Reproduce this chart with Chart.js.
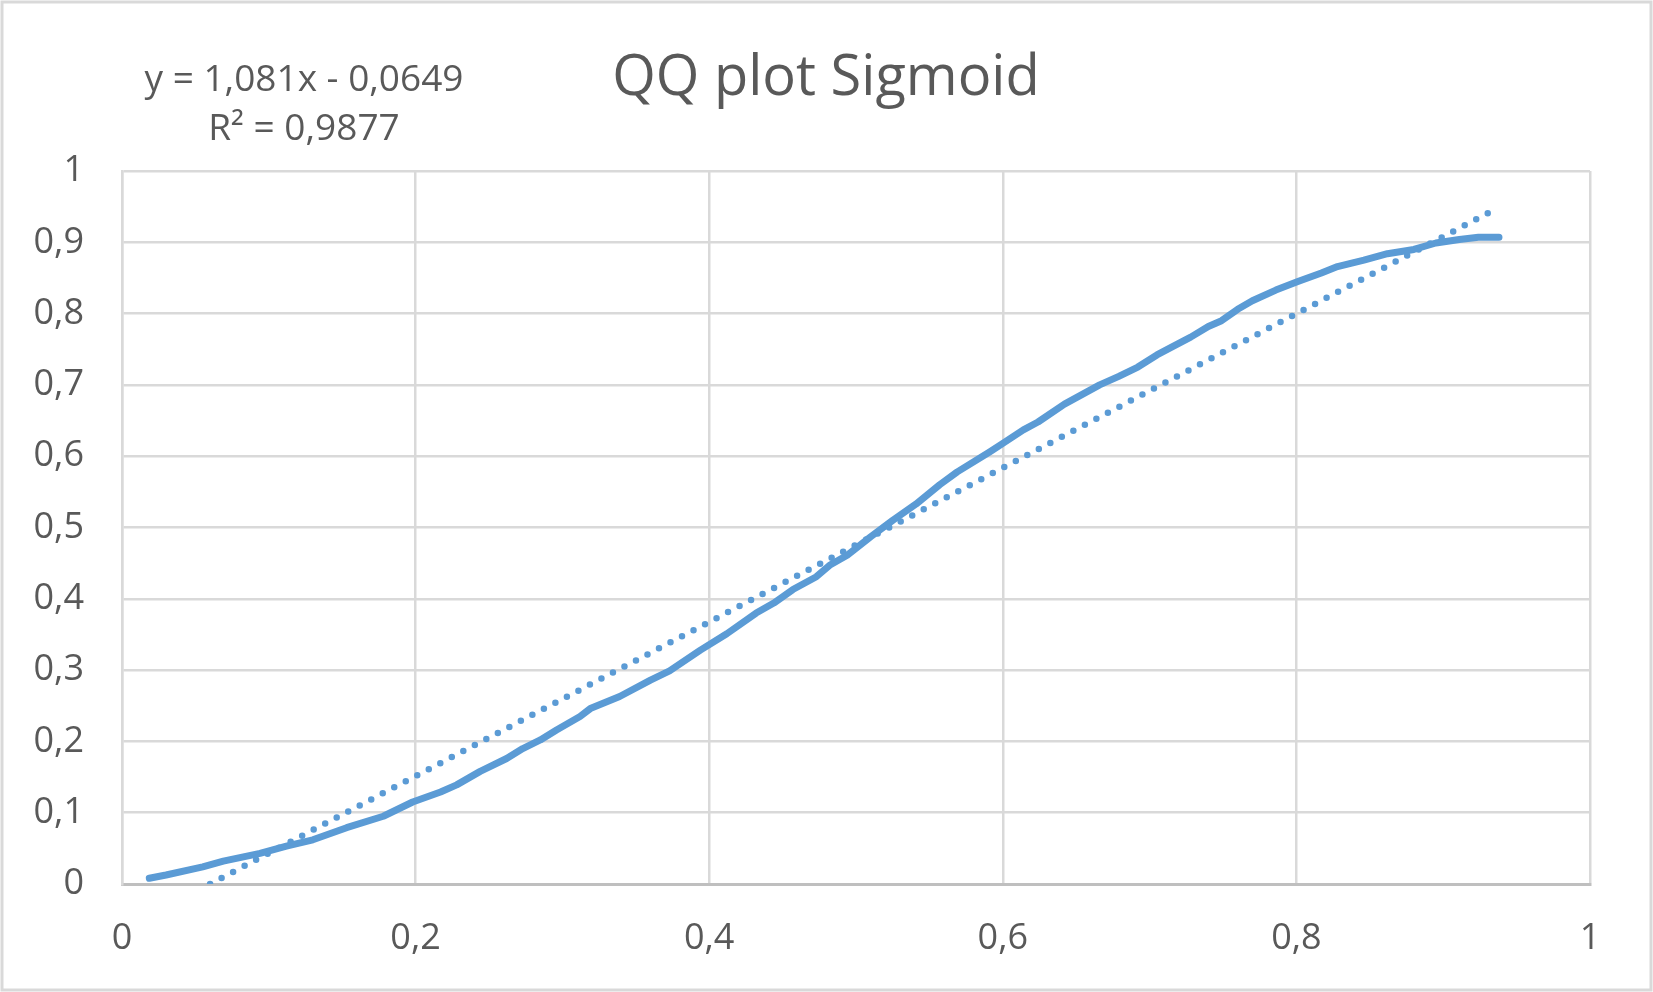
<!DOCTYPE html>
<html>
<head>
<meta charset="utf-8">
<script src="https://cdn.jsdelivr.net/npm/chart.js@4/dist/chart.umd.min.js"></script>
<style>
  body{margin:0;background:#fff;}
  canvas{display:block;}
</style>
</head>
<body>
<canvas id="qq" width="1653" height="992"></canvas>
<script>
// QQ plot Sigmoid
const titleText = 'QQ plot Sigmoid';
const eqLines = ['y = 1,081x - 0,0649', 'R\u00B2 = 0,9877'];

const qqX = [0.0186,0.030,0.055,0.069,0.094,0.112,0.130,0.153,0.178,0.198,0.217,0.228,0.244,0.262,0.273,0.285,0.296,0.312,
  0.319,0.339,0.360,0.373,0.394,0.412,0.432,0.444,0.457,0.473,0.482,0.494,0.510,0.525,0.541,0.557,0.569,0.591,0.600,
  0.614,0.624,0.642,0.666,0.679,0.692,0.705,0.715,0.728,0.740,0.749,0.760,0.770,0.786,0.801,0.817,0.828,0.846,0.862,
  0.880,0.895,0.911,0.924,0.938];
const qqY = [0.008,0.0126,0.024,0.032,0.043,0.053,0.062,0.079,0.095,0.115,0.129,0.139,0.158,0.176,0.190,0.202,0.216,0.235,
  0.246,0.263,0.286,0.299,0.328,0.351,0.380,0.394,0.413,0.431,0.447,0.461,0.487,0.510,0.533,0.560,0.578,0.606,0.618,
  0.637,0.648,0.673,0.700,0.712,0.725,0.742,0.753,0.767,0.782,0.790,0.806,0.818,0.833,0.845,0.857,0.866,0.875,0.884,
  0.890,0.899,0.904,0.907,0.907];

// linear trendline ends (clipped at y = 0)
const trendX = [0.060, 0.938];
const trendY = [0.000, 0.949];

const blue = '#5B9BD5';
const txt = '#595959';
const FONT = '"Open Sans", "Noto Sans", sans-serif';

const toPts = (xs, ys) => xs.map((x,i)=>({x:x, y:ys[i]}));
const commaFmt = v => String(+v.toFixed(1)).replace('.', ',');

const frame = {
  id:'frame',
  beforeDraw(c){
    const ctx = c.ctx;
    ctx.save();
    ctx.fillStyle = '#fff';
    ctx.fillRect(0,0,c.width,c.height);
    ctx.strokeStyle = '#D9D9D9';
    ctx.lineWidth = 3;
    ctx.strokeRect(2,2,1649,988);
    ctx.restore();
  },
  afterDraw(c){
    const ctx = c.ctx;
    ctx.save();
    ctx.fillStyle = txt;
    ctx.textAlign = 'center';
    ctx.textBaseline = 'middle';
    ctx.font = '56px ' + FONT;
    ctx.fillText(titleText, 826, 79);
    ctx.font = '37px ' + FONT;
    ctx.fillText(eqLines[0], 304, 80);
    ctx.fillText(eqLines[1], 304, 129);
    ctx.restore();
  }
};

new Chart(document.getElementById('qq'), {
  type: 'scatter',
  data: {
    datasets: [
      {
        data: toPts(qqX, qqY),
        showLine: true,
        borderColor: blue,
        borderWidth: 7,
        pointRadius: 0,
        borderJoinStyle: 'round',
        borderCapStyle: 'round',
        order: 1
      },
      {
        data: toPts(trendX, trendY),
        showLine: true,
        borderColor: blue,
        borderWidth: 6.5,
        borderDash: [0, 13],
        borderCapStyle: 'round',
        pointRadius: 0,
        order: 2
      }
    ]
  },
  options: {
    responsive: false,
    devicePixelRatio: 1,
    animation: false,
    layout: { padding: { top: 171, right: 63, left: 0, bottom: 0 } },
    plugins: { legend: { display: false }, tooltip: { enabled: false }, title: { display: false } },
    scales: {
      x: {
        type: 'linear', min: 0, max: 1,
        afterFit: s => { s.height = 108; },
        ticks: { stepSize: 0.2, callback: commaFmt, color: txt, font: { family: FONT, size: 36 }, padding: 33, maxRotation: 0 },
        grid: { color: '#D9D9D9', lineWidth: 2.5, drawTicks: false },
        border: { color: '#BFBFBF', width: 3 }
      },
      y: {
        type: 'linear', min: 0, max: 1,
        afterFit: s => { s.width = 122; },
        ticks: { stepSize: 0.1, callback: commaFmt, color: txt, font: { family: FONT, size: 36 }, padding: 38 },
        grid: { color: '#D9D9D9', lineWidth: 2.5, drawTicks: false },
        border: { color: '#D9D9D9', width: 2.5 }
      }
    }
  },
  plugins: [frame]
});
</script>
</body>
</html>
